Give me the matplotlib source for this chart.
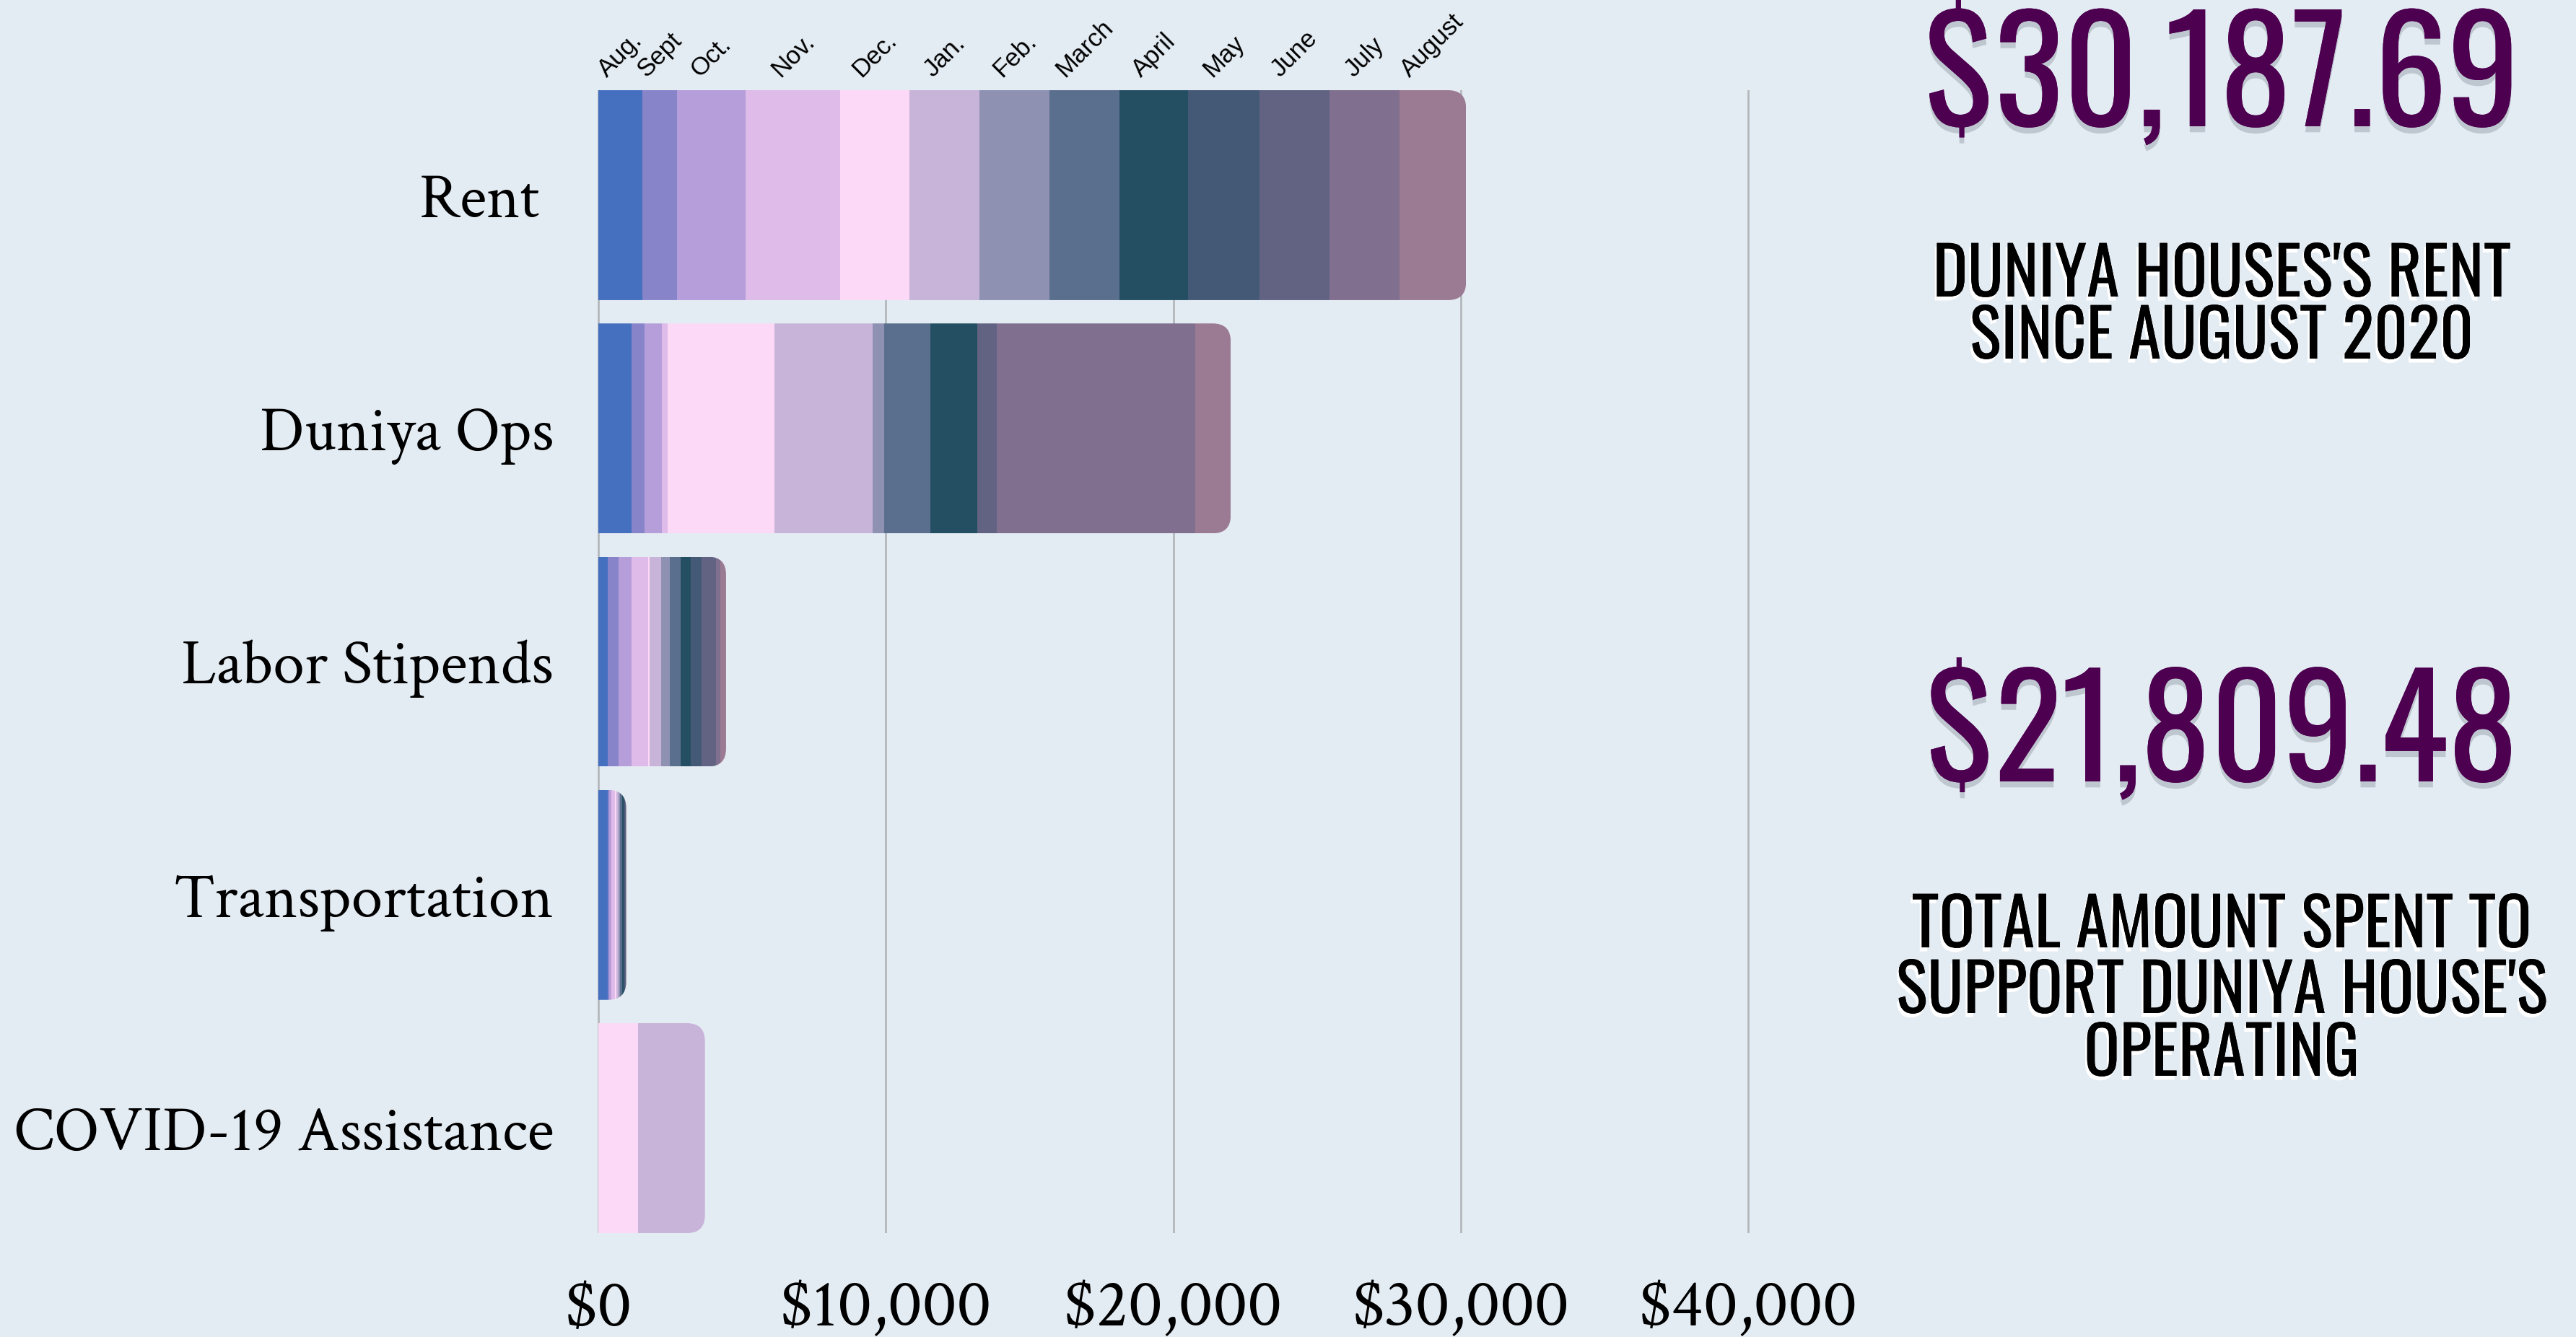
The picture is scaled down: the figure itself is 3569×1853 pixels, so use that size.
import numpy as np
import matplotlib.pyplot as plt
from matplotlib import font_manager as fm
from matplotlib.patches import FancyBboxPatch
import matplotlib.patheffects as pe

# data (USD per month, Aug 2020 -> Aug 2021)
categories = ["Rent ", "Duniya Ops", "Labor Stipends", "Transportation", "COVID-19 Assistance"]
months = ["Aug.", "Sept", "Oct.", "Nov.", "Dec.", "Jan.", "Feb.", "March",
          "April", "May", "June", "July", "August"]
month_colors = ["#4470bf", "#8884ca", "#b59eda", "#debbe8", "#fcd9f6", "#c7b4d8",
                "#8e91b2", "#5a6f8d", "#244f62", "#445976", "#626383", "#806f8f",
                "#9b7b94"]

rent = [1540, 1190, 2400, 3270, 2415, 2455, 2435, 2435, 2375, 2475, 2455, 2415, 2327.69]
duniya_ops = [1153, 448, 608, 208, 3715, 3410, 400, 1601, 1649, 0, 672, 6901, 1235]
labor = [335, 377, 452, 577, 42, 410, 301, 377, 351, 377, 502, 151, 192]
transport = [320, 60, 65, 125, 65, 60, 65, 60, 60, 45, 45, 0, 0]
covid = [0, 0, 0, 0, 1380, 2330, 0, 0, 0, 0, 0, 0, 0]

xticks = [0, 10000, 20000, 30000, 40000]
xtick_labels = ["$0", "$10,000", "$20,000", "$30,000", "$40,000"]

rent_total = "$30,187.69"
rent_caption = ["DUNIYA HOUSES'S RENT", "SINCE AUGUST 2020"]
ops_total = "$21,809.48"
ops_caption = ["TOTAL AMOUNT SPENT TO", "SUPPORT DUNIYA HOUSE'S", "OPERATING"]

W, H = 3569, 1853
BG = "#e4ecf3"
PURPLE = "#4e0050"

# pick fonts that exist here, fall back to the standard ones
avail = {f.name for f in fm.fontManager.ttflist}
def pick(*names):
    for n in names:
        if n in avail:
            return n
    return names[-1]

serif = pick("Crimson Text", "Crimson Pro", "Liberation Serif")
cond = pick("Oswald", "DejaVu Sans")
cond_stretch = "normal" if cond == "Oswald" else "condensed"
sans = pick("Liberation Sans", "DejaVu Sans")

values = np.array([rent, duniya_ops, labor, transport, covid], dtype=float)

fig = plt.figure(figsize=(W / 100, H / 100), dpi=100, facecolor=BG)

# axes placement in pixels
ax_l, ax_r, ax_t, ax_b = 817, 2434, 125, 1709
ax = fig.add_axes([ax_l / W, 1 - ax_b / H, (ax_r - ax_l) / W, (ax_b - ax_t) / H])
ax.set_facecolor(BG)
xmin, xmax = -300, 40300
ymin, ymax = -0.45, 4.45
ax.set_xlim(xmin, xmax)
ax.set_ylim(ymax, ymin)

bar_h = 0.9
y = np.arange(len(categories))
lefts = np.zeros(len(categories))
containers = []
for j, m in enumerate(months):
    c = ax.barh(y, values[:, j], left=lefts, height=bar_h, color=month_colors[j],
                linewidth=0, zorder=2)
    containers.append(c)
    lefts += values[:, j]
totals = lefts.copy()

# rounded right ends: clip each bar row with a rounded box
ppx = (ax_r - ax_l) / (xmax - xmin)
ppy = (ax_b - ax_t) / (ymax - ymin)
r_px = 25
rx = r_px / ppx
ry = r_px / ppy
clips = []
for i in range(len(categories)):
    clip = FancyBboxPatch((-3000, i - bar_h / 2), totals[i] + 3000, bar_h,
                          boxstyle=f"round,pad=0,rounding_size={rx}",
                          mutation_aspect=ry / rx, transform=ax.transData)
    clips.append(clip)
for c in containers:
    for i, p in enumerate(c.patches):
        p.set_clip_path(clips[i])

# month labels over the rent segments
rent_left = np.concatenate([[0], np.cumsum(rent)[:-1]])
centers = rent_left + np.array(rent) / 2
for cx, m in zip(centers, months):
    ax.text(cx, 1 + 12 / (ax_b - ax_t), m, transform=ax.get_xaxis_transform(),
            rotation=45, ha="center", va="bottom", fontsize=25,
            family=sans, color="black")

ax.set_xticks(xticks, xtick_labels)
ax.set_yticks(y, categories)
ax.tick_params(axis="x", length=0, pad=47, labelsize=68)
ax.tick_params(axis="y", length=0, pad=36, labelsize=63)
for lab in ax.get_xticklabels() + ax.get_yticklabels():
    lab.set_family(serif)
ax.grid(axis="x", color="#b4b8bc", linewidth=2)
ax.grid(axis="y", visible=False)
ax.set_axisbelow(True)
for s in ax.spines.values():
    s.set_visible(False)

# right-hand call-outs
cx = 3078 / W
num_fx = [pe.withSimplePatchShadow(offset=(0, -6), shadow_rgbFace="#9aa3ad", alpha=0.5),
          pe.Normal()]
cap_fx = [pe.withSimplePatchShadow(offset=(-2, -4), shadow_rgbFace="white", alpha=1),
          pe.Normal()]

fig.text(cx, 1 - 175 / H, rent_total, ha="center", va="baseline", fontsize=144,
         fontweight="bold", family=cond, fontstretch=cond_stretch, color=PURPLE,
         path_effects=num_fx)
for yb, line in zip([411, 497], rent_caption):
    fig.text(cx, 1 - yb / H, line, ha="center", va="baseline", fontsize=66,
             family=cond, fontstretch=cond_stretch, color="black", path_effects=cap_fx)

fig.text(cx, 1 - 1083 / H, ops_total, ha="center", va="baseline", fontsize=140,
         fontweight="bold", family=cond, fontstretch=cond_stretch, color=PURPLE,
         path_effects=num_fx)
for yb, line in zip([1313, 1404, 1491], ops_caption):
    fig.text(cx, 1 - yb / H, line, ha="center", va="baseline", fontsize=66,
             family=cond, fontstretch=cond_stretch, color="black", path_effects=cap_fx)

plt.savefig("out.png", dpi=100, facecolor=BG)
